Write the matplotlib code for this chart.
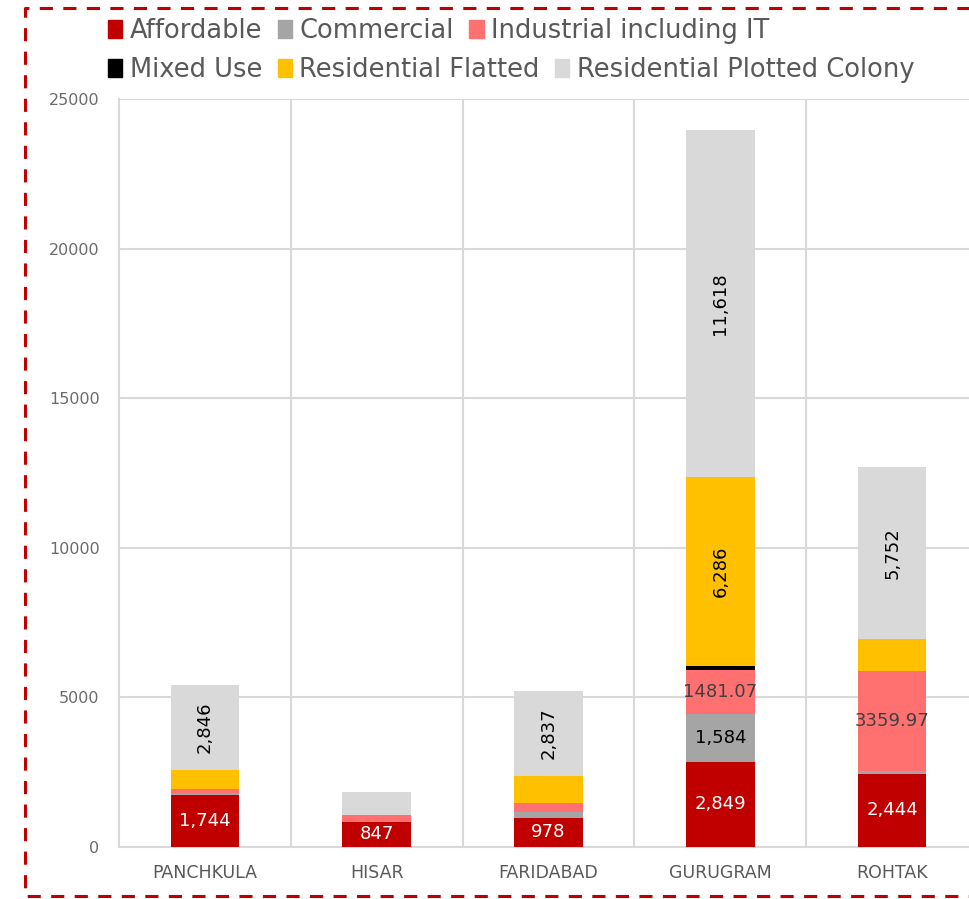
import matplotlib.pyplot as plt
from matplotlib.patches import Patch
from matplotlib.lines import Line2D

plt.rcParams['font.family'] = ['DejaVu Sans']

categories = ['PANCHKULA', 'HISAR', 'FARIDABAD', 'GURUGRAM', 'ROHTAK']
affordable = [1744, 847, 978, 2849, 2444]
commercial = [60, 0, 200, 1584, 90]
industrial = [150, 220, 300, 1481.07, 3359.97]
mixed_use = [0, 0, 0, 150, 0]
res_flatted = [614, 0, 909, 6286, 1060]
res_plotted = [2846, 761, 2837, 11618, 5752]

series_names = ['Affordable', 'Commercial', 'Industrial including IT',
                'Mixed Use', 'Residential Flatted', 'Residential Plotted Colony']
colors = ['#C00000', '#A5A5A5', '#FF7171', '#000000', '#FFC000', '#D9D9D9']

# labels shown on the bars (empty = no label)
affordable_lbl = ['1,744', '847', '978', '2,849', '2,444']
commercial_lbl = ['', '', '', '1,584', '']
industrial_lbl = ['', '', '', '1481.07', '3359.97']
mixed_lbl = ['', '', '', '', '']
flatted_lbl = ['', '', '', '6,286', '']
plotted_lbl = ['2,846', '', '2,837', '11,618', '5,752']

series = [affordable, commercial, industrial, mixed_use, res_flatted, res_plotted]
labels = [affordable_lbl, commercial_lbl, industrial_lbl, mixed_lbl, flatted_lbl, plotted_lbl]
lbl_colors = ['white', 'black', '#404040', 'black', 'black', 'black']
lbl_rot = [0, 0, 0, 0, 90, 90]

fig = plt.figure(figsize=(9.7, 8.99), dpi=100)
ax = fig.add_axes([119 / 970, 52 / 899, 859 / 970, 748 / 899])

x = range(len(categories))
bottom = [0] * len(categories)
for vals, col, lbls, lc, rot in zip(series, colors, labels, lbl_colors, lbl_rot):
    bars = ax.bar(x, vals, width=0.4, bottom=bottom, color=col, zorder=3)
    ax.bar_label(bars, labels=lbls, label_type='center', color=lc,
                 rotation=rot, fontsize=13)
    bottom = [b + v for b, v in zip(bottom, vals)]

ax.set_xlim(-0.5, len(categories) - 0.5)
ax.set_ylim(0, 25000)
ax.set_yticks(range(0, 25001, 5000))
ax.set_xticks(list(x))
ax.set_xticklabels(categories, fontsize=12.5, color='#595959')
ax.tick_params(axis='y', labelsize=11.5, labelcolor='#6b6b6b', length=0, pad=14)
ax.tick_params(axis='x', length=0, pad=12)

grid_col = '#D9D9D9'
ax.grid(axis='y', color=grid_col, linewidth=1.5, zorder=0)
for b in [0.5, 1.5, 2.5, 3.5]:
    ax.axvline(b, color=grid_col, linewidth=1.5, zorder=0)
for s in ['top', 'right']:
    ax.spines[s].set_visible(False)
ax.spines['left'].set_color(grid_col)
ax.spines['left'].set_linewidth(1.5)
ax.spines['bottom'].set_color(grid_col)
ax.spines['bottom'].set_linewidth(1.5)

handles = [Patch(color=c) for c in colors]
leg_kw = dict(frameon=False, fontsize=18.5, labelcolor='#595959', handlelength=0.55,
              handleheight=0.75, handletextpad=0.3, columnspacing=0.6,
              borderaxespad=0, borderpad=0)
leg1 = fig.legend(handles[:3], series_names[:3], ncol=3, loc='center left',
                  bbox_to_anchor=(108 / 970, 1 - 31 / 899), **leg_kw)
leg2 = fig.legend(handles[3:], series_names[3:], ncol=3, loc='center left',
                  bbox_to_anchor=(108 / 970, 1 - 70 / 899), **leg_kw)

# dashed red border: left, top and bottom only (right side runs off the image)
bx, by0, by1 = 25 / 970, 3 / 899, 891 / 899
border = Line2D([1.05, bx, bx, 1.05], [by1, by1, by0, by0], transform=fig.transFigure,
                color='#C00000', linewidth=2.2, linestyle=(0, (4.3, 3.4)))
fig.add_artist(border)

fig.savefig('out.png', dpi=100)
